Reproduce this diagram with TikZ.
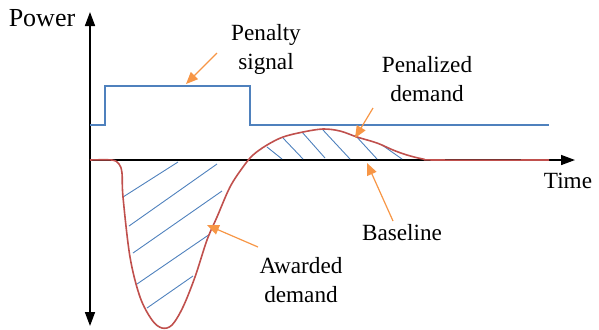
\documentclass[tikz,border=0pt]{standalone}
\usepackage{fontspec}
\setmainfont{Liberation Serif}
\usetikzlibrary{arrows.meta}
\usetikzlibrary{positioning}
\definecolor{sigblue}{RGB}{79,129,189}
\definecolor{curvered}{RGB}{192,80,77}
\definecolor{callout}{RGB}{247,150,70}
\tikzstyle{axis} = [draw, thick, -{Triangle[length=7pt,width=5pt]}]
\tikzstyle{txt} = [align=center, font=\rmfamily\fontsize{11.6}{14.5}\selectfont, inner sep=0pt]
\tikzstyle{pointer} = [draw=callout, line width=0.6pt, -{Triangle[length=6pt,width=5pt]}]
\tikzstyle{hatch} = [draw=sigblue, line width=0.45pt]

\begin{document}
\begin{tikzpicture}[x=0.5pt, y=-0.5pt]
	\useasboundingbox (0,0) rectangle (599,329);
	\coordinate (O) at (90,160);
	\coordinate (ytop) at (90,12);
	\coordinate (ybot) at (90,326);
	\coordinate (xend) at (575,160);
	%% Axes
	\path [axis] (O) -- (ytop);
	\path [axis] (O) -- (ybot);
	\path [axis] (O) -- (xend);
	\node [txt, font=\rmfamily\fontsize{13}{15}\selectfont] (power) at (42,18) {Power};
	\node [txt] (time) at (568,181) {Time};
	%% Hatching
	\path [hatch] (123,197) -- (178,162);
	\path [hatch] (129,226) -- (217,164);
	\path [hatch] (133,253) -- (222,191);
	\path [hatch] (137,284) -- (210,234);
	\path [hatch] (147,308) -- (193,276);
	\path [hatch] (267,147) -- (282,159);
	\path [hatch] (283,138) -- (303,159);
	\path [hatch] (302,132) -- (325,158);
	\path [hatch] (323,130) -- (350,159);
	\path [hatch] (355,135) -- (377,159);
	\path [hatch] (382,145) -- (402,159);
	%% Penalty signal
	\draw [sigblue, line width=0.8pt] (90,125) -- (105,125) -- (105,86) -- (250,86) -- (250,125) -- (549,125);
	%% Demand curve
	\draw [curvered, line width=0.8pt] plot [smooth, tension=0.55] coordinates {
		(90,160) (112,160) (119,164) (122,173) (123,197) (130,257) (140,297)
		(152,320) (162,328) (172,325) (183,307) (195,277) (207,240) (217,217)
		(230,187) (243,167) (253,155) (267,145) (283,137) (303,132) (323,129)
		(340,131) (357,137) (377,143) (393,150) (407,155) (423,159) (437,160)
		(549,160)};
	%% Callouts
	\node [txt] (penalty) at (266,49) {Penalty\\signal};
	\node [txt] (penalized) at (427,79) {Penalized\\demand};
	\node [txt] (baseline) at (402,233) {Baseline};
	\node [txt] (awarded) at (301,280) {Awarded\\demand};
	\coordinate (p1) at (186,84);
	\coordinate (p2) at (355,138);
	\coordinate (p3) at (367,163);
	\coordinate (p4) at (207,225);
	\path [pointer] (217,53) -- (p1);
	\path [pointer] (373,108) -- (p2);
	\path [pointer] (393,221) -- (p3);
	\path [pointer] (258,247) -- (p4);
\end{tikzpicture}
\end{document}
